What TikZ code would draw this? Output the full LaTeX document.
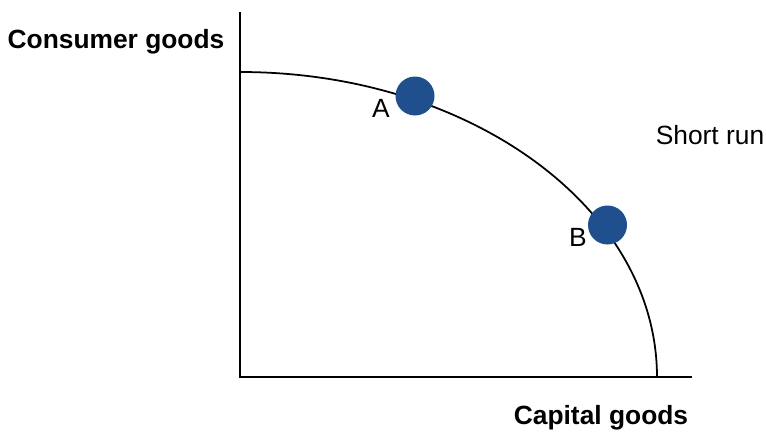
\documentclass[tikz,border=0pt]{standalone}
\usepackage{fontspec}
\setmainfont{Liberation Sans}
\usetikzlibrary{positioning}

\definecolor{ppfdot}{rgb}{0.12,0.31,0.55}

\tikzset{
  axisline/.style={black,line width=1.1pt},
  ppfline/.style={black,line width=1pt},
  ppfpoint/.style={circle,fill=ppfdot,minimum size=0.78cm,inner sep=0pt},
  axislabel/.style={font=\fontsize{15}{18}\selectfont\bfseries},
  plainlabel/.style={font=\fontsize{15}{18}\selectfont}
}

\begin{document}
\begin{tikzpicture}
\useasboundingbox (0,0) rectangle (15.32,8.62);
% axes
\coordinate (origin) at (4.8,1.08);
\coordinate (ytop) at (4.8,8.38);
\coordinate (xend) at (13.84,1.08);
\draw[axisline] (ytop) -- (origin) -- (xend);
% frontier
\draw[ppfline] (4.8,7.18) arc[start angle=90,end angle=0,x radius=8.34,y radius=6.1];
% points on the frontier
\node[ppfpoint] (ptA) at (8.3,6.7) {};
\node[ppfpoint] (ptB) at (12.15,4.12) {};
\node[plainlabel] (labA) at (7.62,6.46) {A};
\node[plainlabel] (labB) at (11.56,3.88) {B};
% labels
\node[axislabel] (ylab) at (2.32,7.78) {Consumer goods};
\node[axislabel] (xlab) at (12.02,0.26) {Capital goods};
\node[plainlabel] (runlab) at (14.2,5.92) {Short run};
\end{tikzpicture}
\end{document}
